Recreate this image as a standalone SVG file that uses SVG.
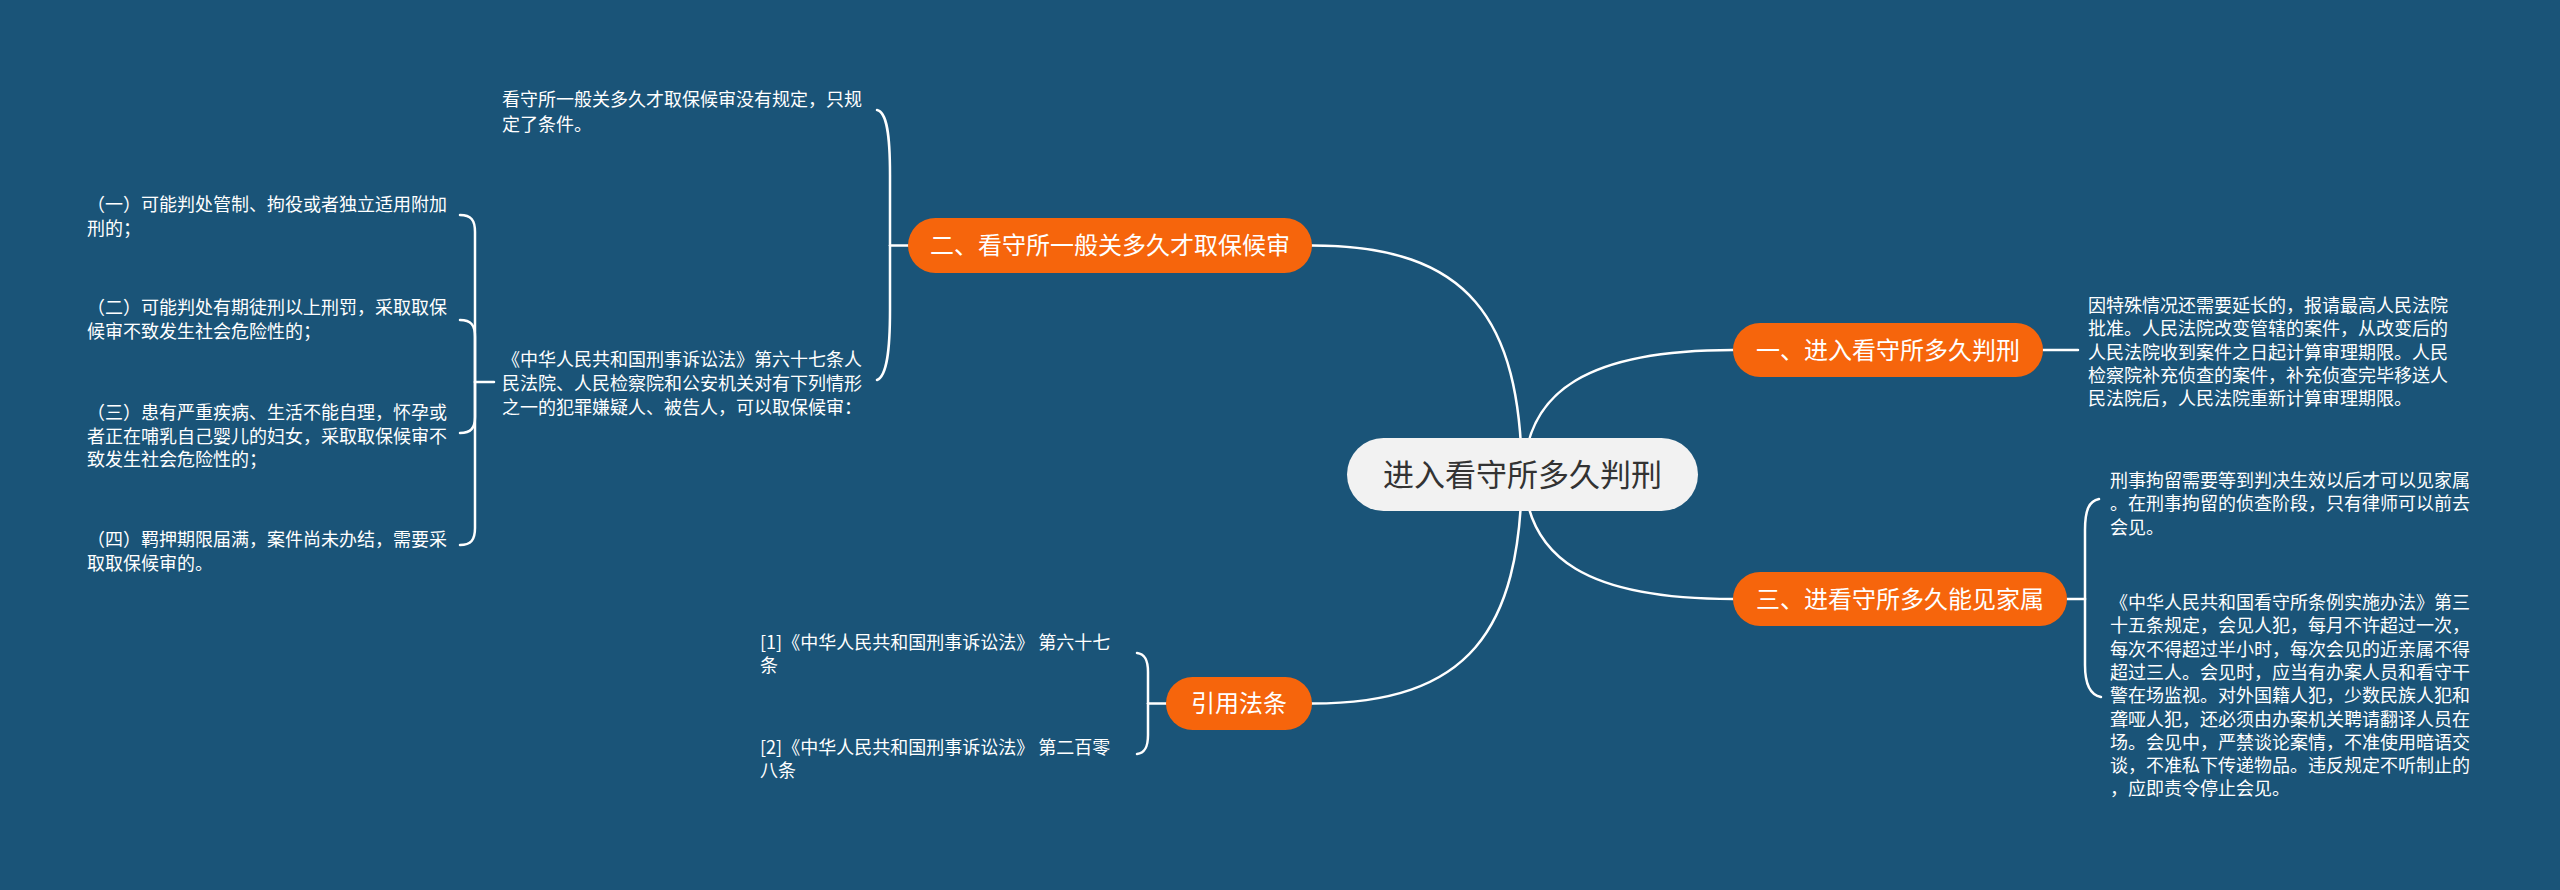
<svg xmlns="http://www.w3.org/2000/svg" width="2560" height="890" viewBox="0 0 2560 890">
<style>
.bg{fill:#1a5478}
.ln{fill:none;stroke:#ffffff;stroke-width:2.5;stroke-linecap:round}
.br{fill:#f6650c}
.bt{font-family:"Noto Sans CJK SC","Noto Sans",sans-serif;font-size:24px;fill:#ffffff;text-anchor:middle}
.ct{font-family:"Noto Sans CJK SC","Noto Sans",sans-serif;font-size:31px;fill:#333333;text-anchor:middle}
.lt{font-family:"Noto Sans CJK SC","Noto Sans",sans-serif;font-size:18px;fill:#ffffff}
</style>
<rect class="bg" x="0" y="0" width="2560" height="890"/>
<g id="connectors">
<path class="ln" d="M1312 245.5 C1470 245.5 1520 320 1522 474"/>
<path class="ln" d="M1733 350 C1590 350 1526 390 1524 474"/>
<path class="ln" d="M1733 599 C1590 599 1526 560 1524 474"/>
<path class="ln" d="M1312 703.5 C1470 703.5 1520 630 1522 474"/>
<path class="ln" d="M908 245.5 L890 245.5"/>
<path class="ln" d="M890 245.5 L890 175 C890 135 887 112 877 110"/>
<path class="ln" d="M890 245.5 L890 310 C890 350 887 376 877 380"/>
<path class="ln" d="M494 382 L475 382"/>
<path class="ln" d="M475 382 L475 232 C475 220 471 215 460 215"/>
<path class="ln" d="M475 382 L475 337 C475 325 471 320 460 320"/>
<path class="ln" d="M475 382 L475 417 C475 428 471 433 460 433"/>
<path class="ln" d="M475 382 L475 528 C475 540 471 545 460 545"/>
<path class="ln" d="M2043 350 L2078 350"/>
<path class="ln" d="M2067 599 L2085 599"/>
<path class="ln" d="M2085 599 L2085 530 C2085 510 2089 501 2099 499"/>
<path class="ln" d="M2085 599 L2085 665 C2085 685 2090 695 2101 697"/>
<path class="ln" d="M1166 703.5 L1148 703.5"/>
<path class="ln" d="M1148 703.5 L1148 672 C1148 660 1145 654 1137 653"/>
<path class="ln" d="M1148 703.5 L1148 735 C1148 747 1145 753 1137 754"/>
</g>
<g id="center">
<rect x="1347" y="438" width="351" height="73" rx="36.5" fill="#f2f2f2"/>
<text class="ct" x="1522.5" y="486">进入看守所多久判刑</text>
</g>
<g id="b2">
<rect class="br" x="908" y="218" width="404" height="55" rx="27.5"/>
<text class="bt" x="1110" y="254">二、看守所一般关多久才取保候审</text>
</g>
<g id="b1">
<rect class="br" x="1733" y="323" width="310" height="54" rx="27"/>
<text class="bt" x="1888" y="358.5">一、进入看守所多久判刑</text>
</g>
<g id="b3">
<rect class="br" x="1733" y="572" width="334" height="54" rx="27"/>
<text class="bt" x="1900" y="607.5">三、进看守所多久能见家属</text>
</g>
<g id="b4">
<rect class="br" x="1166" y="677" width="146" height="53" rx="26.5"/>
<text class="bt" x="1239" y="712">引用法条</text>
</g>
<g id="leafA">
<text class="lt" x="502" y="106"><tspan x="502" y="106">看守所一般关多久才取保候审没有规定，只规</tspan><tspan x="502" y="130.5">定了条件。</tspan></text>
</g>
<g id="leafB">
<text class="lt" x="502" y="366"><tspan x="502" y="366">《中华人民共和国刑事诉讼法》第六十七条人</tspan><tspan x="502" y="390">民法院、人民检察院和公安机关对有下列情形</tspan><tspan x="502" y="414">之一的犯罪嫌疑人、被告人，可以取保候审：</tspan></text>
</g>
<g id="leafB1">
<text class="lt" x="87" y="211"><tspan x="87" y="211">（一）可能判处管制、拘役或者独立适用附加</tspan><tspan x="87" y="234.5">刑的；</tspan></text>
</g>
<g id="leafB2">
<text class="lt" x="87" y="314"><tspan x="87" y="314">（二）可能判处有期徒刑以上刑罚，采取取保</tspan><tspan x="87" y="338">候审不致发生社会危险性的；</tspan></text>
</g>
<g id="leafB3">
<text class="lt" x="87" y="419"><tspan x="87" y="419">（三）患有严重疾病、生活不能自理，怀孕或</tspan><tspan x="87" y="442.5">者正在哺乳自己婴儿的妇女，采取取保候审不</tspan><tspan x="87" y="466">致发生社会危险性的；</tspan></text>
</g>
<g id="leafB4">
<text class="lt" x="87" y="546"><tspan x="87" y="546">（四）羁押期限届满，案件尚未办结，需要采</tspan><tspan x="87" y="570">取取保候审的。</tspan></text>
</g>
<g id="leaf1">
<text class="lt" x="2088" y="312"><tspan x="2088" y="312">因特殊情况还需要延长的，报请最高人民法院</tspan><tspan x="2088" y="335.3">批准。人民法院改变管辖的案件，从改变后的</tspan><tspan x="2088" y="358.6">人民法院收到案件之日起计算审理期限。人民</tspan><tspan x="2088" y="381.9">检察院补充侦查的案件，补充侦查完毕移送人</tspan><tspan x="2088" y="405.2">民法院后，人民法院重新计算审理期限。</tspan></text>
</g>
<g id="leaf3a">
<text class="lt" x="2110" y="487"><tspan x="2110" y="487">刑事拘留需要等到判决生效以后才可以见家属</tspan><tspan x="2110" y="510.3">。在刑事拘留的侦查阶段，只有律师可以前去</tspan><tspan x="2110" y="533.6">会见。</tspan></text>
</g>
<g id="leaf3b">
<text class="lt" x="2110" y="609"><tspan x="2110" y="609">《中华人民共和国看守所条例实施办法》第三</tspan><tspan x="2110" y="632.3">十五条规定，会见人犯，每月不许超过一次，</tspan><tspan x="2110" y="655.6">每次不得超过半小时，每次会见的近亲属不得</tspan><tspan x="2110" y="678.9">超过三人。会见时，应当有办案人员和看守干</tspan><tspan x="2110" y="702.2">警在场监视。对外国籍人犯，少数民族人犯和</tspan><tspan x="2110" y="725.5">聋哑人犯，还必须由办案机关聘请翻译人员在</tspan><tspan x="2110" y="748.8">场。会见中，严禁谈论案情，不准使用暗语交</tspan><tspan x="2110" y="772.1">谈，不准私下传递物品。违反规定不听制止的</tspan><tspan x="2110" y="795.4">，应即责令停止会见。</tspan></text>
</g>
<g id="ref1">
<text class="lt" x="760" y="649"><tspan x="760" y="649">[1]《中华人民共和国刑事诉讼法》 第六十七</tspan><tspan x="760" y="672">条</tspan></text>
</g>
<g id="ref2">
<text class="lt" x="760" y="754"><tspan x="760" y="754">[2]《中华人民共和国刑事诉讼法》 第二百零</tspan><tspan x="760" y="777">八条</tspan></text>
</g>
</svg>
